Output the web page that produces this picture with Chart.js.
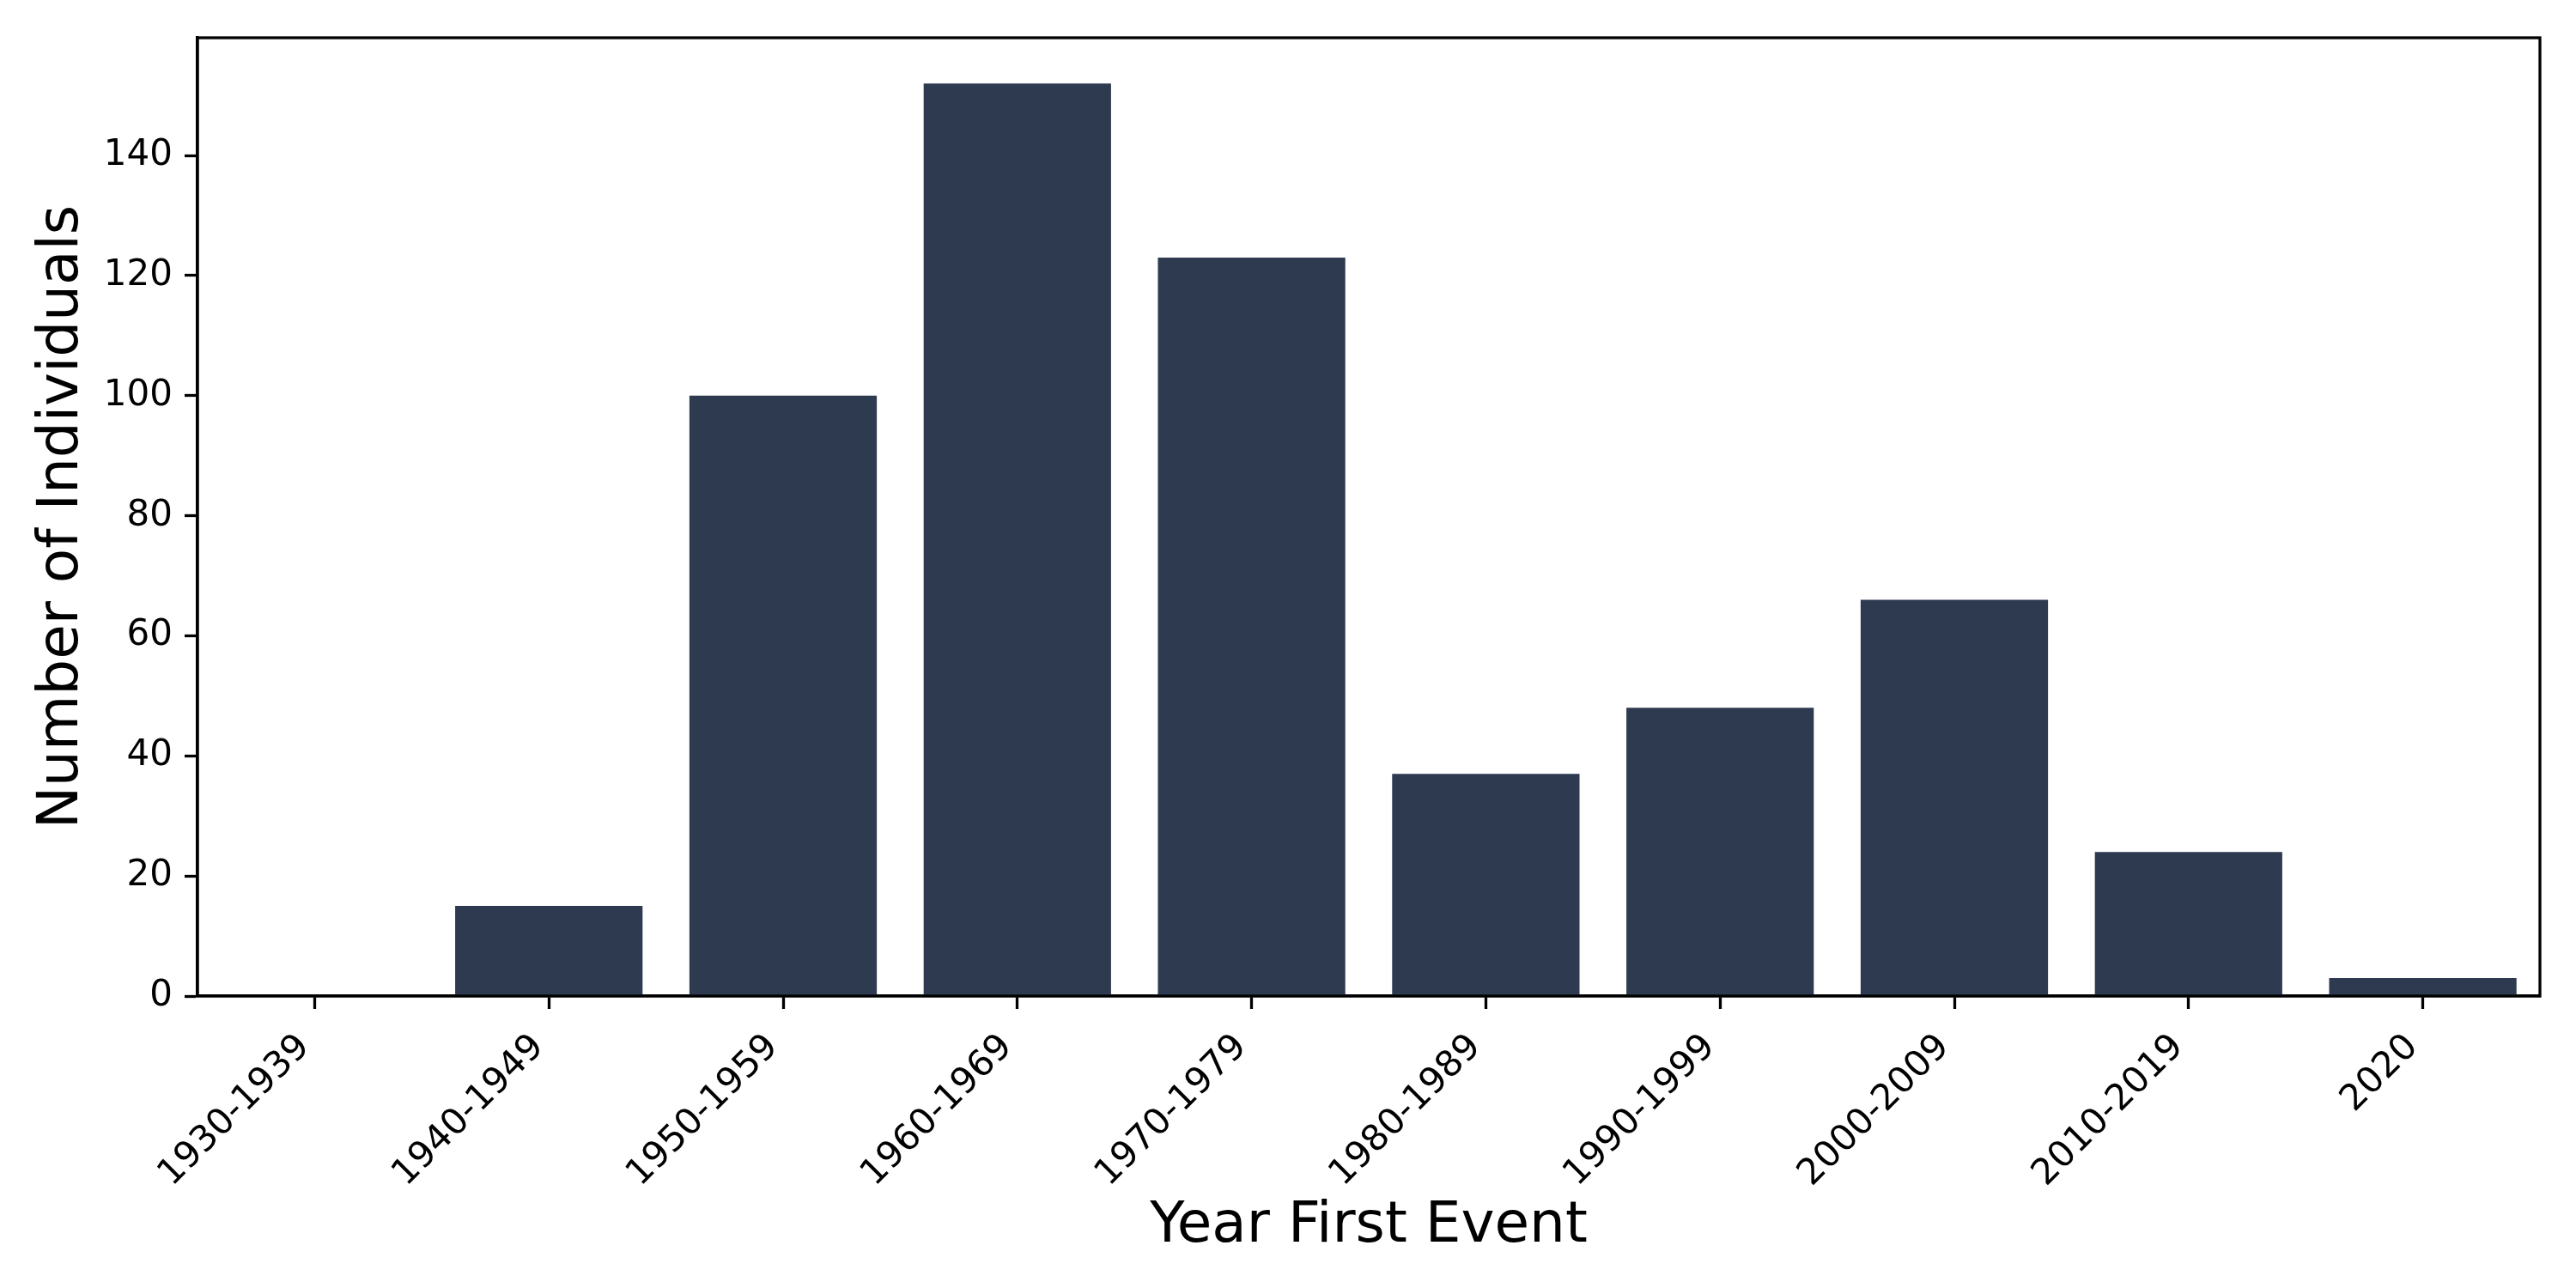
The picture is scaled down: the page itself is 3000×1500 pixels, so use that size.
<!DOCTYPE html>
<html>
<head>
<meta charset="utf-8">
<title>Year First Event</title>
<script src="https://cdn.jsdelivr.net/npm/chart.js@4.4.1/dist/chart.umd.min.js"></script>
<style>
  html, body { margin: 0; padding: 0; background: #fff; }
  #wrap { width: 3000px; height: 1500px; }
</style>
</head>
<body>
<div id="wrap"><canvas id="chart" width="3000" height="1500"></canvas></div>
<script>
  // Data.
  const DECADES = [
    '1930-1939', '1940-1949', '1950-1959', '1960-1969', '1970-1979',
    '1980-1989', '1990-1999', '2000-2009', '2010-2019', '2020',
  ];
  const INDIVIDUALS = [0, 15, 100, 152, 123, 37, 48, 66, 24, 3];
  const Y_TICK_STEP = 20;

  const BAR_COLOR = '#2e3a50';
  const FONT = '"DejaVu Sans", Verdana, sans-serif';

  // Closed box round the plot, like matplotlib spines.
  const frame = {
    id: 'frame',
    afterDraw(chart) {
      const { ctx, chartArea: a } = chart;
      ctx.save();
      ctx.strokeStyle = '#000';
      ctx.lineWidth = 3.3;
      ctx.strokeRect(a.left, a.top, a.right - a.left, a.bottom - a.top);
      ctx.restore();
    },
  };

  const yMax = Math.max(...INDIVIDUALS) * 1.05;

  new Chart(document.getElementById('chart').getContext('2d'), {
    type: 'bar',
    data: {
      labels: DECADES,
      datasets: [{
        data: INDIVIDUALS,
        backgroundColor: BAR_COLOR,
        borderWidth: 0,
        barPercentage: 0.8,
        categoryPercentage: 1.0,
      }],
    },
    options: {
      responsive: false,
      devicePixelRatio: 1,
      animation: false,
      layout: { padding: { left: 33, right: 42, top: 44, bottom: 32 } },
      plugins: {
        legend: { display: false },
        tooltip: { enabled: false },
      },
      scales: {
        x: {
          grid: {
            display: true,
            offset: false,
            drawOnChartArea: false,
            drawTicks: true,
            tickLength: 15,
            tickWidth: 3.3,
            tickColor: '#000',
          },
          border: { display: true, color: '#000', width: 3.3 },
          ticks: {
            autoSkip: false,
            minRotation: 45,
            maxRotation: 45,
            padding: 20,
            labelOffset: -12,
            color: '#000',
            font: { family: FONT, size: 42 },
          },
          title: {
            display: true,
            text: 'Year First Event',
            color: '#000',
            padding: 0,
            font: { family: FONT, size: 66 },
          },
          afterFit(scale) { scale.height = 308; },
        },
        y: {
          min: 0,
          max: yMax,
          grid: {
            display: true,
            drawOnChartArea: false,
            drawTicks: true,
            tickLength: 15,
            tickWidth: 3.3,
            tickColor: '#000',
          },
          border: { display: true, color: '#000', width: 3.3 },
          ticks: {
            stepSize: Y_TICK_STEP,
            includeBounds: false,
            padding: 14,
            color: '#000',
            font: { family: FONT, size: 42 },
          },
          title: {
            display: true,
            text: 'Number of Individuals',
            color: '#000',
            padding: 0,
            font: { family: FONT, size: 66 },
          },
          afterFit(scale) { scale.width = 197; },
        },
      },
    },
    plugins: [frame],
  });
</script>
</body>
</html>
